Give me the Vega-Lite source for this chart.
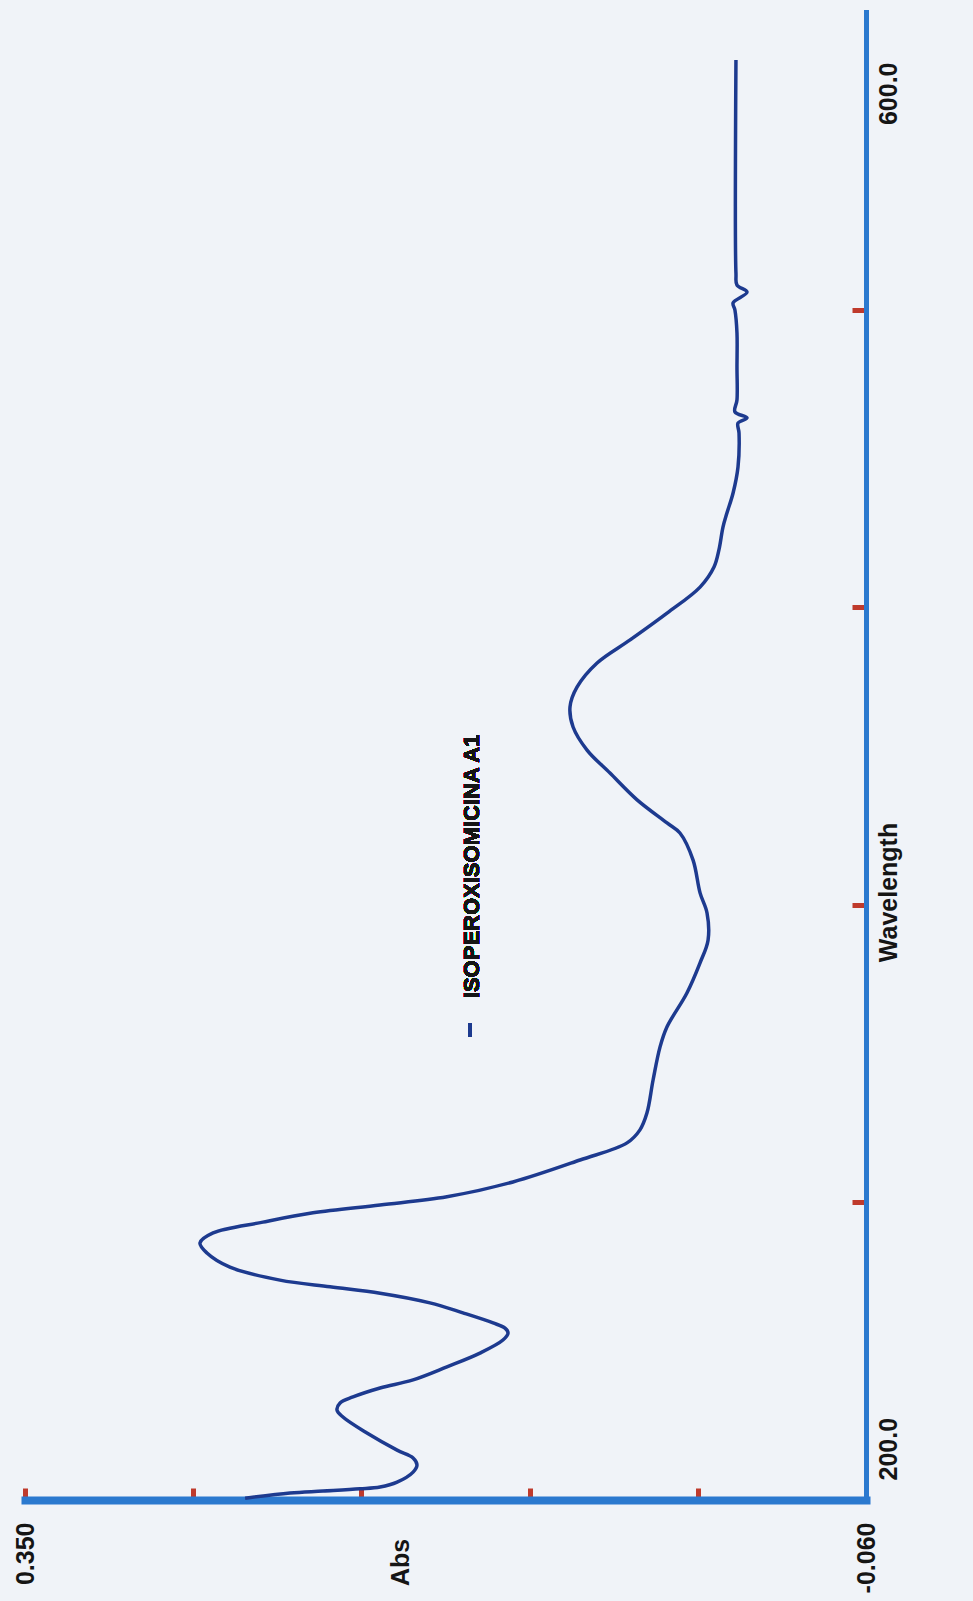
{
  "$schema": "https://vega.github.io/schema/vega-lite/v6.json",
  "width": 841,
  "height": 1488,
  "autosize": "none",
  "padding": {"left": 25, "top": 12, "right": 107, "bottom": 101},
  "background": "#f0f3f8",
  "config": {"view": {"stroke": null}, "font": "Liberation Sans"},
  "data": {"values": [
    {"wl": 200.5, "abs": 0.2427}, {"wl": 201.9, "abs": 0.2208}, {"wl": 202.4, "abs": 0.2047},
    {"wl": 203.0, "abs": 0.1867}, {"wl": 203.5, "abs": 0.1769}, {"wl": 204.8, "abs": 0.1686},
    {"wl": 207.5, "abs": 0.1608}, {"wl": 209.4, "abs": 0.1589}, {"wl": 211.3, "abs": 0.1608},
    {"wl": 213.4, "abs": 0.1686}, {"wl": 218.0, "abs": 0.1833}, {"wl": 222.3, "abs": 0.1950},
    {"wl": 224.2, "abs": 0.1979}, {"wl": 226.1, "abs": 0.1964}, {"wl": 227.7, "abs": 0.1901},
    {"wl": 230.1, "abs": 0.1769}, {"wl": 232.3, "abs": 0.1608}, {"wl": 235.8, "abs": 0.1443},
    {"wl": 239.5, "abs": 0.1282}, {"wl": 243.0, "abs": 0.1170}, {"wl": 244.9, "abs": 0.1145},
    {"wl": 246.2, "abs": 0.1160}, {"wl": 247.6, "abs": 0.1218}, {"wl": 250.3, "abs": 0.1365},
    {"wl": 253.0, "abs": 0.1526}, {"wl": 255.6, "abs": 0.1769}, {"wl": 257.3, "abs": 0.2013},
    {"wl": 259.1, "abs": 0.2257}, {"wl": 262.6, "abs": 0.2501}, {"wl": 266.4, "abs": 0.2613},
    {"wl": 269.1, "abs": 0.2647}, {"wl": 271.8, "abs": 0.2583}, {"wl": 274.7, "abs": 0.2340},
    {"wl": 277.2, "abs": 0.2096}, {"wl": 279.3, "abs": 0.1769}, {"wl": 281.5, "abs": 0.1443},
    {"wl": 285.5, "abs": 0.1121}, {"wl": 291.4, "abs": 0.0794}, {"wl": 296.0, "abs": 0.0565},
    {"wl": 299.5, "abs": 0.0502}, {"wl": 304.0, "abs": 0.0468}, {"wl": 312.9, "abs": 0.0438},
    {"wl": 321.8, "abs": 0.0404}, {"wl": 327.2, "abs": 0.0370}, {"wl": 336.3, "abs": 0.0273},
    {"wl": 344.4, "abs": 0.0209}, {"wl": 350.5, "abs": 0.0170}, {"wl": 357.8, "abs": 0.0175},
    {"wl": 363.2, "abs": 0.0209}, {"wl": 372.0, "abs": 0.0243}, {"wl": 379.3, "abs": 0.0307},
    {"wl": 382.0, "abs": 0.0370}, {"wl": 388.2, "abs": 0.0516}, {"wl": 395.4, "abs": 0.0648},
    {"wl": 401.6, "abs": 0.0760}, {"wl": 407.8, "abs": 0.0828}, {"wl": 413.2, "abs": 0.0843},
    {"wl": 418.5, "abs": 0.0809}, {"wl": 425.0, "abs": 0.0711}, {"wl": 431.2, "abs": 0.0550},
    {"wl": 438.4, "abs": 0.0370}, {"wl": 445.4, "abs": 0.0209}, {"wl": 450.8, "abs": 0.0141},
    {"wl": 455.4, "abs": 0.0117}, {"wl": 461.6, "abs": 0.0097}, {"wl": 465.3, "abs": 0.0078},
    {"wl": 470.7, "abs": 0.0048}, {"wl": 477.7, "abs": 0.0024}, {"wl": 486.8, "abs": 0.0019},
    {"wl": 489.5, "abs": 0.0024}, {"wl": 490.9, "abs": -0.0020}, {"wl": 492.5, "abs": 0.0039},
    {"wl": 495.7, "abs": 0.0029}, {"wl": 504.6, "abs": 0.0029}, {"wl": 513.7, "abs": 0.0029},
    {"wl": 519.9, "abs": 0.0039}, {"wl": 521.8, "abs": 0.0048}, {"wl": 524.7, "abs": -0.0020},
    {"wl": 526.6, "abs": 0.0029}, {"wl": 529.8, "abs": 0.0034}, {"wl": 587.1, "abs": 0.0034}
  ]},
  "layer": [
    {
      "mark": {"type": "line", "color": "#1d3a8f", "strokeWidth": 3.5, "interpolate": "catmull-rom"},
      "encoding": {
        "x": {
          "field": "abs", "type": "quantitative",
          "scale": {"domain": [-0.06, 0.35], "reverse": true, "nice": false, "zero": false},
          "axis": {
            "orient": "bottom",
            "values": [-0.06, 0.022, 0.104, 0.186, 0.268, 0.35],
            "labelExpr": "datum.value == 0.35 ? '0.350' : (datum.value == -0.06 ? '-0.060' : '')",
            "labelAngle": 270,
            "labelAlign": "right",
            "labelBaseline": "middle",
            "labelPadding": 34,
            "labelFont": "Liberation Sans",
            "labelFontWeight": 700,
            "labelFontSize": 25,
            "labelColor": "#151515",
            "domainColor": "#2b79cf",
            "domainWidth": 8,
            "domainCap": "square",
            "tickColor": {"condition": {"test": "datum.value == -0.06", "value": "transparent"}, "value": "#bf3a2c"},
            "tickWidth": 5,
            "tickSize": -12,
            "grid": false,
            "title": "Abs",
            "titleAngle": 270,
            "titleX": 375,
            "titleY": 62,
            "titleAlign": "center",
            "titleBaseline": "middle",
            "titleFont": "Liberation Sans",
            "titleFontWeight": "bold",
            "titleFontSize": 25,
            "titleColor": "#151515"
          }
        },
        "y": {
          "field": "wl", "type": "quantitative",
          "scale": {"domain": [200, 600], "nice": false, "zero": false},
          "axis": {
            "orient": "right",
            "values": [200, 280, 360, 440, 520, 600],
            "labelExpr": "datum.value == 200 ? '200.0' : (datum.value == 600 ? '600.0' : '')",
            "labelAngle": 270,
            "labelAlign": {"condition": {"test": "datum.value == 200", "value": "left"}, "value": "right"},
            "labelOffset": {"condition": {"test": "datum.value == 200", "value": -20}, "value": 50},
            "labelBaseline": "top",
            "labelPadding": 24,
            "labelFont": "Liberation Sans",
            "labelFontWeight": 700,
            "labelFontSize": 25,
            "labelColor": "#151515",
            "domainColor": "#2b79cf",
            "domainWidth": 5,
            "domainCap": "square",
            "tickColor": {"condition": {"test": "datum.value == 200 || datum.value == 600", "value": "transparent"}, "value": "#bf3a2c"},
            "tickWidth": 5,
            "tickSize": -14,
            "grid": false,
            "title": "Wavelength",
            "titleAngle": 270,
            "titleX": 22,
            "titleY": 880,
            "titleAlign": "center",
            "titleBaseline": "middle",
            "titleFont": "Liberation Sans",
            "titleFontWeight": "bold",
            "titleFontSize": 25,
            "titleColor": "#151515"
          }
        },
        "order": {"field": "wl", "type": "quantitative"}
      }
    },
    {
      "mark": {"type": "text", "text": "ISOPEROXISOMICINA A1", "angle": 270, "align": "left", "baseline": "middle", "font": "Liberation Sans", "fontWeight": "bold", "fontSize": 22, "color": "#151515"},
      "encoding": {"x": {"datum": 0.1321}, "y": {"datum": 334.9}}
    },
    {
      "mark": {"type": "rule", "color": "#1d3a8f", "strokeWidth": 3},
      "encoding": {"x": {"datum": 0.1331}, "y": {"datum": 324.5}, "y2": {"datum": 328.2}}
    }
  ]
}
